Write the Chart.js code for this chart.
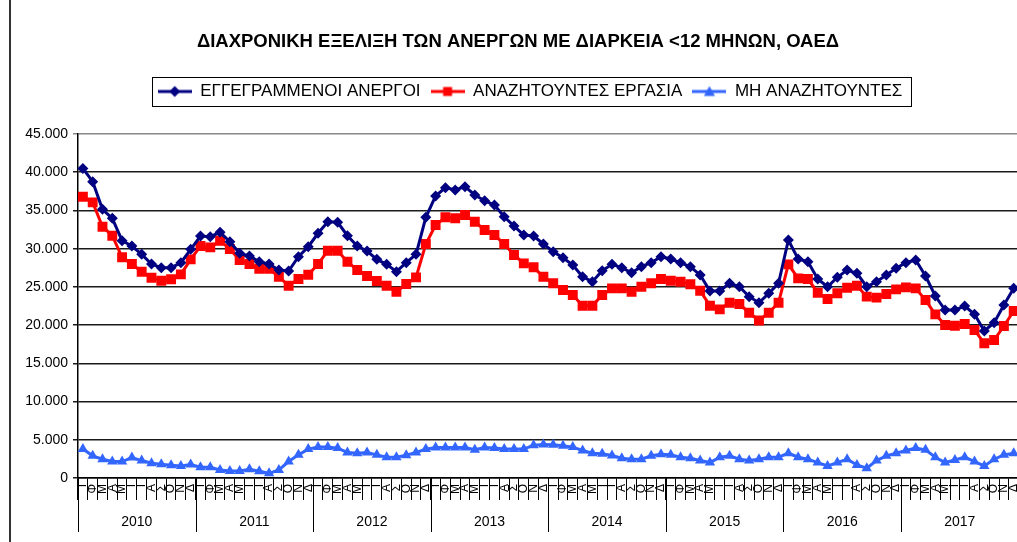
<!DOCTYPE html>
<html>
<head>
<meta charset="utf-8">
<script src="https://cdn.jsdelivr.net/npm/chart.js@4.4.1/dist/chart.umd.min.js"></script>
<style>
    html, body { margin: 0; padding: 0; background: #fff; overflow: hidden; }
    canvas { display: block; }
</style>
</head>
<body>
<canvas id="oaedChart" width="1036" height="542"></canvas>
<script>
// Χρονιές και μήνες (αρχικά γράμματα)
const years = ['2010', '2011', '2012', '2013', '2014', '2015', '2016', '2017'];
const monthLetters = ['Ι', 'Φ', 'Μ', 'Α', 'Μ', 'Ι', 'Ι', 'Α', 'Σ', 'Ο', 'Ν', 'Δ'];

// Εγγεγραμμένοι άνεργοι <12 μηνών
const registered = [
    40500, 38760, 35150, 33970, 31040, 30350, 29260, 27990, 27510, 27510, 28160, 29910,
    31650, 31560, 32140, 30910, 29390, 29040, 28290, 27990, 27200, 27080, 28950, 30250,
    32010, 33520, 33450, 31690, 30350, 29690, 28600, 27950, 26990, 28160, 29260, 34100,
    36890, 37980, 37670, 38110, 37020, 36270, 35710, 34180, 32960, 31780, 31650, 30610,
    29600, 28810, 27860, 26330, 25680, 27110, 27950, 27510, 26850, 27640, 28160, 28950,
    28650, 28160, 27640, 26550, 24460, 24460, 25470, 25020, 23720, 22930, 24160, 25470,
    31130, 28650, 28290, 26030, 25020, 26250, 27200, 26770, 25020, 25680, 26550, 27430,
    28160, 28510, 26420, 23810, 21970, 21970, 22500, 21410, 19230, 20320, 22630, 24810
];

// Αναζητούντες εργασία
const seeking = [
    36800, 36060, 32870, 31690, 28870, 27990, 26990, 26200, 25810, 25990, 26640, 28600,
    30350, 30170, 31040, 29950, 28510, 27990, 27380, 27380, 26330, 25150, 26030, 26590,
    27990, 29730, 29730, 28290, 27200, 26420, 25770, 25150, 24370, 25380, 26250, 30610,
    33090, 34100, 33970, 34400, 33520, 32440, 31780, 30610, 29170, 28080, 27560, 26330,
    25470, 24590, 23940, 22540, 22540, 23940, 24810, 24810, 24370, 25020, 25470, 26030,
    25810, 25680, 25340, 24500, 22540, 22060, 22930, 22760, 21620, 20600, 21620, 22930,
    27950, 26120, 26030, 24240, 23410, 24160, 24890, 25150, 23720, 23590, 24070, 24680,
    24940, 24810, 23280, 21410, 20010, 19920, 20140, 19360, 17620, 18050, 19880, 21840
];

// Μη αναζητούντες
const notSeeking = [
    3800, 2900, 2460, 2150, 2150, 2680, 2280, 1930, 1800, 1670, 1580, 1760,
    1400, 1400, 1050, 920, 920, 1140, 880, 610, 1050, 2150, 3030, 3780,
    4040, 4040, 3910, 3340, 3250, 3340, 3030, 2720, 2720, 2990, 3340, 3780,
    4000, 4000, 4000, 4000, 3690, 4000, 3910, 3780, 3780, 3780, 4300, 4390,
    4350, 4210, 4040, 3600, 3250, 3160, 2940, 2590, 2460, 2460, 2900, 3120,
    3030, 2720, 2590, 2280, 2020, 2720, 2900, 2460, 2280, 2460, 2720, 2720,
    3250, 2720, 2460, 2020, 1580, 2020, 2460, 1710, 1270, 2280, 2900, 3250,
    3600, 3910, 3690, 2720, 2020, 2370, 2720, 2150, 1580, 2460, 3030, 3250
];

const labels = years.flatMap(() => monthLetters);
const FONT = "'Liberation Sans', Arial, sans-serif";

// Εικονίδια υπομνήματος: γραμμή με σημάδι στη μέση
function legendIcon(color, shape) {
    const c = document.createElement('canvas');
    c.width = 34; c.height = 14;
    const g = c.getContext('2d');
    g.strokeStyle = color; g.fillStyle = color; g.lineWidth = 3;
    g.beginPath(); g.moveTo(0, 7); g.lineTo(34, 7); g.stroke();
    g.beginPath();
    if (shape === 'diamond') {
        g.moveTo(17, 1.5); g.lineTo(22.5, 7); g.lineTo(17, 12.5); g.lineTo(11.5, 7);
    } else if (shape === 'square') {
        g.rect(12.5, 2.5, 9, 9);
    } else {
        g.moveTo(17, 1.5); g.lineTo(22.5, 11.5); g.lineTo(11.5, 11.5);
    }
    g.closePath(); g.fill();
    return c;
}
const legendIcons = [
    legendIcon('#000080', 'diamond'),
    legendIcon('#FF0000', 'square'),
    legendIcon('#3366FF', 'triangle')
];

// Χρονιές κάτω από τους μήνες, διαχωριστικά και πλαίσιο υπομνήματος
const yearAxisPlugin = {
    id: 'yearAxis',
    afterLayout(chart) {
        // το υπόμνημα είναι λίγο δεξιότερα από τον τίτλο
        chart.legend.left += 12;
        chart.legend.right += 12;
    },
    afterDraw(chart) {
        const x = chart.scales.x;
        const ctx = chart.ctx;
        const top = chart.chartArea.bottom;
        const step = x.getPixelForValue(1) - x.getPixelForValue(0);
        ctx.save();
        ctx.strokeStyle = '#000';
        ctx.lineWidth = 1;
        ctx.fillStyle = '#000';
        ctx.font = '14px ' + FONT;
        ctx.textAlign = 'center';
        ctx.textBaseline = 'middle';
        years.forEach((yr, k) => {
            const first = x.getPixelForValue(k * 12);
            const last = x.getPixelForValue(k * 12 + 11);
            const left = Math.round(first - step / 2) + 0.5;
            ctx.beginPath(); ctx.moveTo(left, top); ctx.lineTo(left, top + 54); ctx.stroke();
            ctx.fillText(yr, (first + last) / 2, top + 44);
        });
        // αριστερό περίγραμμα
        ctx.lineWidth = 2;
        ctx.strokeStyle = '#333';
        ctx.beginPath(); ctx.moveTo(10, 0); ctx.lineTo(10, 542); ctx.stroke();
        // πλαίσιο υπομνήματος
        const boxes = chart.legend.legendHitBoxes;
        if (boxes && boxes.length) {
            const l = boxes[0].left - 6;
            const r = boxes[boxes.length - 1].left + boxes[boxes.length - 1].width + 8;
            const cy = boxes[0].top + boxes[0].height / 2;
            ctx.lineWidth = 1;
            ctx.strokeStyle = '#000';
            ctx.strokeRect(Math.round(l) + 0.5, Math.round(cy - 14.5) + 0.5, Math.round(r - l), 29);
        }
        ctx.restore();
    }
};

new Chart(document.getElementById('oaedChart'), {
    type: 'line',
    data: {
        labels: labels,
        datasets: [
            {
                label: 'ΕΓΓΕΓΡΑΜΜΕΝΟΙ ΑΝΕΡΓΟΙ',
                data: registered,
                borderColor: '#000080',
                backgroundColor: '#000080',
                borderWidth: 3,
                pointStyle: 'rectRot',
                pointRadius: 5.5,
                pointBorderWidth: 0,
            },
            {
                label: 'ΑΝΑΖΗΤΟΥΝΤΕΣ ΕΡΓΑΣΙΑ',
                data: seeking,
                borderColor: '#FF0000',
                backgroundColor: '#FF0000',
                borderWidth: 3,
                pointStyle: 'rect',
                pointRadius: 7,
                pointBorderWidth: 0,
            },
            {
                label: 'ΜΗ ΑΝΑΖΗΤΟΥΝΤΕΣ',
                data: notSeeking,
                borderColor: '#3366FF',
                backgroundColor: '#3366FF',
                borderWidth: 3,
                pointStyle: 'triangle',
                pointRadius: 6,
                pointBorderWidth: 0,
            },
        ],
    },
    options: {
        responsive: false,
        animation: false,
        devicePixelRatio: 1,
        layout: { padding: { left: 17.4, right: 17.4, top: 0, bottom: 0 } },
        plugins: {
            title: {
                display: true,
                text: 'ΔΙΑΧΡΟΝΙΚΗ ΕΞΕΛΙΞΗ ΤΩΝ ΑΝΕΡΓΩΝ ΜΕ ΔΙΑΡΚΕΙΑ <12 ΜΗΝΩΝ, ΟΑΕΔ',
                color: '#000',
                font: { family: FONT, size: 18.5, weight: 'bold' },
                padding: { top: 31, bottom: 19.8 },
            },
            // κενό ανάμεσα στο υπόμνημα και την περιοχή του γραφήματος
            subtitle: {
                display: true,
                text: '',
                weight: 500,
                font: { size: 10, lineHeight: 1 },
                padding: { top: 7, bottom: 7 },
            },
            legend: {
                display: true,
                position: 'top',
                labels: {
                    usePointStyle: true,
                    pointStyleWidth: 34,
                    color: '#000',
                    font: { family: FONT, size: 17 },
                    padding: 10,
                    generateLabels(chart) {
                        const items = Chart.defaults.plugins.legend.labels.generateLabels(chart);
                        items.forEach((it, i) => { it.pointStyle = legendIcons[i]; });
                        return items;
                    },
                },
            },
            tooltip: { enabled: false },
        },
        scales: {
            y: {
                min: 0,
                max: 45000,
                ticks: {
                    stepSize: 5000,
                    color: '#000',
                    font: { family: FONT, size: 14 },
                    padding: 5,
                    callback: v => String(v).replace(/\B(?=(\d{3})+(?!\d))/g, '.'),
                },
                grid: {
                    color: ctx => (ctx.tick && ctx.tick.value === 45000 ? '#888' : '#1a1a1a'),
                    lineWidth: 1.5,
                    tickLength: 5,
                },
                border: { color: '#000', width: 1.5 },
                afterFit(scale) { scale.width = 60.6; },
            },
            x: {
                offset: true,
                ticks: {
                    autoSkip: false,
                    maxRotation: 90,
                    minRotation: 90,
                    color: '#000',
                    font: { family: FONT, size: 12 },
                    padding: -16,
                },
                grid: {
                    offset: true,
                    drawOnChartArea: false,
                    drawTicks: true,
                    tickLength: 22,
                    color: '#000',
                    lineWidth: 1,
                },
                border: { color: '#000', width: 1.5 },
                afterFit(scale) { scale.height = 64; },
            },
        },
    },
    plugins: [yearAxisPlugin],
});
</script>
</body>
</html>
